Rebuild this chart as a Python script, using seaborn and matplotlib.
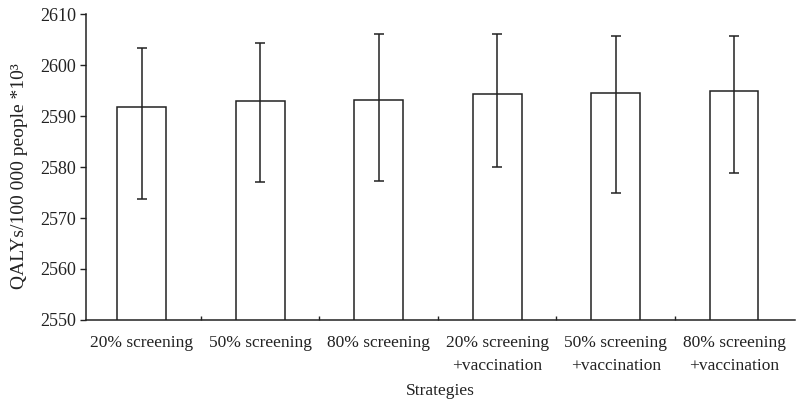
import matplotlib
matplotlib.use("Agg")
import matplotlib.pyplot as plt
import seaborn as sns
import pandas as pd
import numpy as np
from matplotlib.ticker import FixedLocator

# Strategy labels and QALY estimates with their lower/upper bounds
strategies = [
    "20% screening",
    "50% screening",
    "80% screening",
    "20% screening\n+vaccination",
    "50% screening\n+vaccination",
    "80% screening\n+vaccination",
]
qalys = [2591.7, 2592.9, 2593.2, 2594.3, 2594.6, 2594.9]
lower = [2573.8, 2577.1, 2577.3, 2580.1, 2575.0, 2578.8]
upper = [2603.4, 2604.3, 2606.2, 2606.2, 2605.8, 2605.8]
y_ticks = [2550, 2560, 2570, 2580, 2590, 2600, 2610]

sns.set_theme(style="ticks")
plt.rcParams["font.family"] = ["Liberation Serif", "DejaVu Serif"]
plt.rcParams["text.color"] = "#222222"
plt.rcParams["axes.labelcolor"] = "#222222"
plt.rcParams["xtick.color"] = "#222222"
plt.rcParams["ytick.color"] = "#222222"

df = pd.DataFrame({"strategy": strategies, "qaly": qalys})

fig = plt.figure(figsize=(7.97, 4.04), dpi=100)
ax = fig.add_axes([0.108, 0.208, 0.889, 0.757])

sns.barplot(data=df, x="strategy", y="qaly", ax=ax, color="white",
            edgecolor="#222222", linewidth=1.1, width=0.41, errorbar=None)

# confidence bounds drawn as asymmetric error bars on the bar positions
pos = np.arange(len(strategies))
vals = np.array(qalys)
yerr = np.vstack([vals - np.array(lower), np.array(upper) - vals])
ax.errorbar(pos, vals, yerr=yerr, fmt="none", ecolor="#222222",
            elinewidth=1.1, capsize=3.8, capthick=1.1)

ax.set_ylim(2550, 2610)
ax.set_xlim(-0.47, 5.51)
ax.set_yticks(y_ticks)
ax.tick_params(axis="y", labelsize=13, length=4, width=1, direction="out", pad=3)
ax.tick_params(axis="x", which="major", labelsize=12.5, length=0, pad=11)
for lbl in ax.get_xticklabels():
    lbl.set_linespacing(1.6)
ax.xaxis.set_minor_locator(FixedLocator(pos[:-1] + 0.5))
ax.tick_params(axis="x", which="minor", length=3, width=1, direction="in")

for side in ("top", "right"):
    ax.spines[side].set_visible(False)
for side in ("left", "bottom"):
    ax.spines[side].set_linewidth(1.1)
    ax.spines[side].set_color("#222222")

ax.set_xlabel("Strategies", fontsize=12.5, labelpad=6)
ax.set_ylabel("QALYs/100 000 people *10³", fontsize=14)
ax.yaxis.set_label_coords(-0.082, 0.47)

fig.savefig("out.png", dpi=100)
